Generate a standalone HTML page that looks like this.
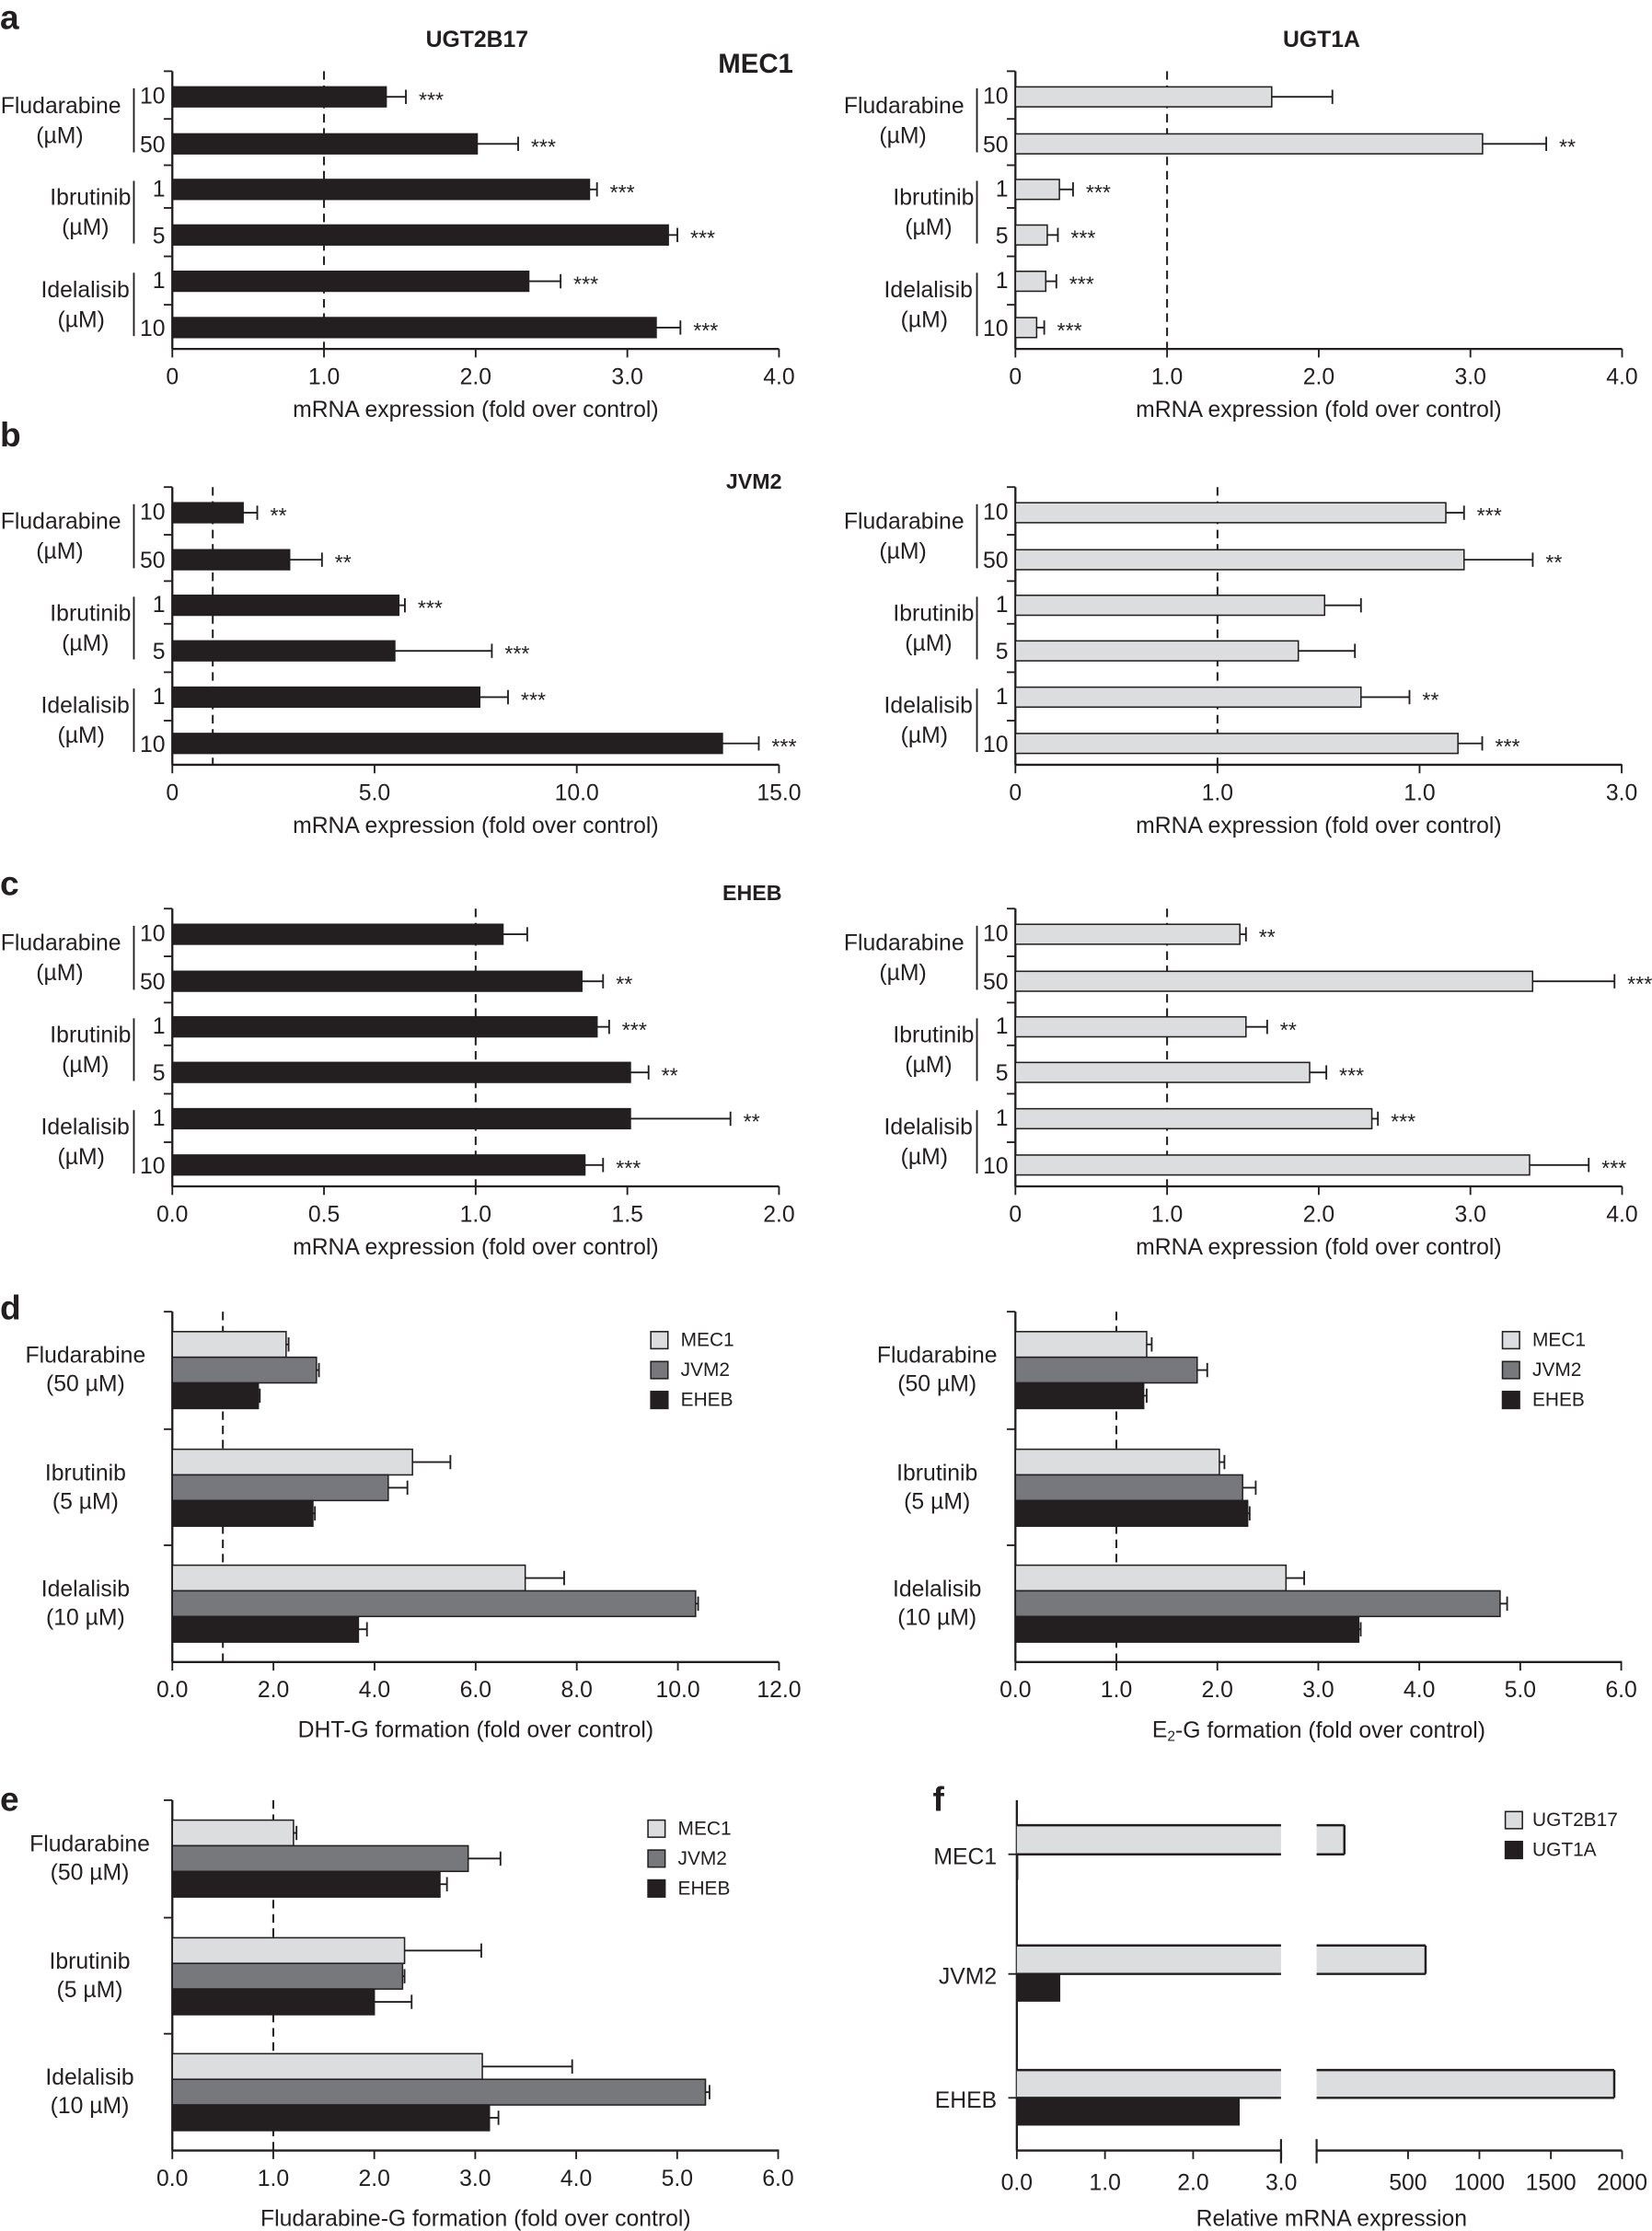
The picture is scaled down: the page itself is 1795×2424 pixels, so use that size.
<!DOCTYPE html>
<html><head><meta charset="utf-8"><style>
html,body{margin:0;padding:0;background:#fff}
svg{display:block}
text{font-family:"Liberation Sans",sans-serif;fill:#231f20}
</style></head><body>
<svg id="s" width="1795" height="2424" viewBox="0 0 1160 1566.5" xmlns="http://www.w3.org/2000/svg"></svg>
<script>
var S=document.getElementById('s'),out=[];
var LT='#dcdddf',MD='#77787b',DK='#231f20',K='#231f20';
function t(x,y,s,o){o=o||{};out.push('<text x="'+x+'" y="'+y+'" font-size="'+(o.fs||16)+'" text-anchor="'+(o.a||'start')+'"'+(o.b?' font-weight="bold"':'')+' dominant-baseline="central">'+s+'</text>');}
function L(x1,y1,x2,y2,w,d){out.push('<line x1="'+x1+'" y1="'+y1+'" x2="'+x2+'" y2="'+y2+'" stroke="'+K+'" stroke-width="'+(w||1.2)+'"'+(d?' stroke-dasharray="'+d+'"':'')+'/>');}
function R(x,y,w,h,f){out.push('<rect x="'+x+'" y="'+y+'" width="'+w+'" height="'+h+'" fill="'+f+'" stroke="'+K+'" stroke-width="1"/>');}
function axis(x0,x1,ay,top,ticks,labels,seps,xlab,dash){
  L(x0,ay,x1,ay,1.5);L(x0,top,x0,ay,1.5);
  for(var i=0;i<ticks.length;i++){L(ticks[i],ay,ticks[i],ay+6,1.2);t(ticks[i],ay+20,labels[i],{a:'middle'});}
  seps.forEach(function(y){L(x0-6,y,x0,y,1.2);});
  if(xlab)t((x0+x1)/2,ay+43,xlab,{a:'middle'});
  if(dash)L(dash,top,dash,ay,1.3,'6,4');
}
function bar(x0,u,y,h,v,e,col,st){
  var xe=x0+v*u;R(x0,y,v*u,h,col);
  if(e!=null){var xx=x0+e*u,c=y+h/2;L(xe,c,xx,c,1.2);L(xx,c-5,xx,c+5,1.2);
    if(st)t(xx+9,c+2,st,{fs:15});}
}
var bars6=[61,94,126,158,190.5,223],H=14;
function six(x0,u,off,vals,col,ticks,labels,dashv,right){
  var ay=245+off,top=50+off;
  var seps=[50,83.5,116,146,180,214].map(function(y){return y+off;});
  var tk=ticks.map(function(v){return x0+v*u;});
  axis(x0,x0+426,ay,top,tk,labels,seps,'mRNA expression (fold over control)',x0+dashv*u);
  for(var i=0;i<6;i++){var v=vals[i];bar(x0,u,bars6[i]+off,H,v[0],v[1],col,v[2]);}
  var gx=x0-27,dx=x0-5;
  var names=[['Fludarabine',85,42],['Ibrutinib',92,60],['Idelalisib',91,57]];
  var doses=[['10','50'],['1','5'],['1','10']];
  for(var g=0;g<3;g++){
    var yA=bars6[2*g]+off,yB=bars6[2*g+1]+off;
    L(gx,yA+1,gx,yB+H-1,1.2);
    t(dx,yA+7,doses[g][0],{a:'end'});t(dx,yB+8,doses[g][1],{a:'end'});
    var mid=(yA+yB+H)/2, sh=right?592:0;
    t(names[g][1]+sh,mid-10,names[g][0],{a:'end'});
    t(names[g][2]+sh,mid+11,'(\u00b5M)',{a:'middle'});
  }
}
t(0,12,'a',{fs:24,b:1});t(0,305,'b',{fs:24,b:1});t(0,620,'c',{fs:24,b:1});
t(0,918,'d',{fs:24,b:1});t(0,1263,'e',{fs:24,b:1});t(655,1263,'f',{fs:24,b:1});
t(335,28,'UGT2B17',{a:'middle',b:1,fs:16});t(928,28,'UGT1A',{a:'middle',b:1,fs:16});
t(557,45,'MEC1',{a:'end',b:1,fs:19});t(549,338,'JVM2',{a:'end',b:1,fs:15});t(549,627,'EHEB',{a:'end',b:1,fs:15});
six(121,106.5,0,[[1.41,1.54,'***'],[2.01,2.28,'***'],[2.75,2.8,'***'],[3.27,3.33,'***'],[2.35,2.56,'***'],[3.19,3.35,'***']],DK,[0,1,2,3,4],['0','1.0','2.0','3.0','4.0'],1);
six(713,106.5,0,[[1.69,2.09],[3.08,3.5,'**'],[0.29,0.38,'***'],[0.21,0.28,'***'],[0.2,0.27,'***'],[0.14,0.19,'***']],LT,[0,1,2,3,4],['0','1.0','2.0','3.0','4.0'],1,1);
six(121,28.4,292,[[1.75,2.1,'**'],[2.9,3.7,'**'],[5.6,5.75,'***'],[5.5,7.9,'***'],[7.6,8.3,'***'],[13.6,14.5,'***']],DK,[0,5,10,15],['0','5.0','10.0','15.0'],1);
six(713,141.9,292,[[2.13,2.22,'***'],[2.22,2.56,'**'],[1.53,1.71],[1.4,1.68],[1.71,1.95,'**'],[2.19,2.31,'***']],LT,[0,1,2,3],['0','1.0','1.0','3.0'],1,1);
six(121,213,588,[[1.09,1.17],[1.35,1.42,'**'],[1.4,1.44,'***'],[1.51,1.57,'**'],[1.51,1.84,'**'],[1.36,1.42,'***']],DK,[0,.5,1,1.5,2],['0.0','0.5','1.0','1.5','2.0'],1);
six(713,106.5,588,[[1.48,1.52,'**'],[3.41,3.95,'***'],[1.52,1.66,'**'],[1.94,2.05,'***'],[2.35,2.39,'***'],[3.39,3.78,'***']],LT,[0,1,2,3,4],['0','1.0','2.0','3.0','4.0'],1,1);
var gy=[935,1017.6,1099];
function tri(x0,u,off,vals,ticks,labels,xlab,dashv,names,nx,lx){
  var ay=1167+off,top=921+off;
  var tk=ticks.map(function(v){return x0+v*u;});
  axis(x0,x0+426,ay,top,tk,labels,[921+off,1003.5+off,1085+off],null,x0+dashv*u);
  t(x0+213,ay+48,xlab,{a:'middle'});
  var cols=[LT,MD,DK];
  for(var g=0;g<3;g++)for(var k=0;k<3;k++){var v=vals[g*3+k];bar(x0,u,gy[g]+off+k*18,18,v[0],v[1],cols[k]);}
  for(var g=0;g<3;g++){t(nx,gy[g]+off+17,names[g][0],{a:'middle'});t(nx,gy[g]+off+37,names[g][1],{a:'middle'});}
  var ln=['MEC1','JVM2','EHEB'];
  for(var k=0;k<3;k++){R(lx,935+off+k*21,12,12,cols[k]);t(lx+21,941+off+k*21,ln[k],{fs:13.5});}
}
tri(121,35.5,0,[[2.25,2.3],[2.85,2.9],[1.7,1.73],[4.75,5.5],[4.27,4.65],[2.78,2.82],[6.98,7.75],[10.35,10.4],[3.68,3.85]],[0,2,4,6,8,10,12],['0.0','2.0','4.0','6.0','8.0','10.0','12.0'],'DHT-G formation (fold over control)',1,[['Fludarabine','(50 \u00b5M)'],['Ibrutinib','(5 \u00b5M)'],['Idelalisib','(10 \u00b5M)']],60,457);
tri(713,70.9,0,[[1.3,1.35],[1.8,1.9],[1.27,1.3],[2.02,2.07],[2.25,2.38],[2.3,2.32],[2.68,2.86],[4.8,4.87],[3.4,3.42]],[0,1,2,3,4,5,6],['0.0','1.0','2.0','3.0','4.0','5.0','6.0'],'E<tspan font-size="10" dy="4">2</tspan><tspan dy="-4">-G formation (fold over control)</tspan>',1,[['Fludarabine','(50 \u00b5M)'],['Ibrutinib','(5 \u00b5M)'],['Idelalisib','(10 \u00b5M)']],658,1055);
tri(121,70.9,343,[[1.2,1.23],[2.93,3.25],[2.65,2.72],[2.3,3.06],[2.28,2.3],[2.0,2.37],[3.07,3.96],[5.28,5.32],[3.14,3.23]],[0,1,2,3,4,5,6],['0.0','1.0','2.0','3.0','4.0','5.0','6.0'],'Fludarabine-G formation (fold over control)',1,[['Fludarabine','(50 \u00b5M)'],['Ibrutinib','(5 \u00b5M)'],['Idelalisib','(10 \u00b5M)']],63,455);
(function(){
  var ay=1510;L(714,1264,714,ay,1.5);L(714,ay,899.5,ay,1.5);L(924.5,ay,1139,ay,1.5);
  L(899.5,1502,899.5,1519,1.4);L(924.5,1502,924.5,1519,1.4);
  var u=61.9;[[0,'0.0'],[1,'1.0'],[2,'2.0'],[3,'3.0']].forEach(function(p){var x=714+p[0]*u;L(x,ay,x,ay+6);t(x,ay+23,p[1],{a:'middle'});});
  [[988.7,'500'],[1038.8,'1000'],[1089,'1500'],[1139,'2000']].forEach(function(p){L(p[0],ay,p[0],ay+6);t(p[0],ay+23,p[1],{a:'middle'});});
  t(935,ay+48,'Relative mRNA expression',{a:'middle'});
  [1302,1386,1473].forEach(function(y){L(708,y,714,y);});
  t(700,1304,'MEC1',{a:'end'});t(700,1388,'JVM2',{a:'end'});t(700,1475,'EHEB',{a:'end'});
  function lb(y,h,xe){
    out.push('<rect x="714" y="'+y+'" width="185.5" height="'+h+'" fill="'+LT+'"/><rect x="924.5" y="'+y+'" width="'+(xe-924.5)+'" height="'+h+'" fill="'+LT+'"/>');
    L(714,y,899.5,y,1.6);L(714,y+h,899.5,y+h,1.6);L(924.5,y,xe,y,1.6);L(924.5,y+h,xe,y+h,1.6);L(xe,y,xe,y+h,1.6);}
  lb(1281.6,20.4,944);lb(1366,20,1001);lb(1453.5,19.5,1133.5);
  R(714,1386,30,19,DK);R(714,1473,156,19,DK);L(714.5,1302,714.5,1320,1);
  R(1057,1272,12,12,LT);t(1076,1278,'UGT2B17',{fs:13.5});
  R(1057,1293,12,12,DK);t(1076,1299,'UGT1A',{fs:13.5});
})();
S.innerHTML=out.join('');
</script>
</body></html>
